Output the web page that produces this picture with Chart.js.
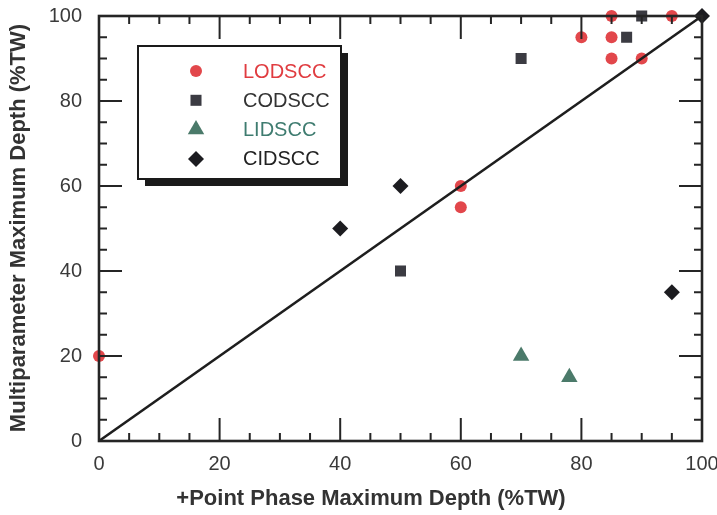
<!DOCTYPE html>
<html lang="en">
<head>
  <meta charset="UTF-8" />
  <title>Multiparameter vs +Point depth</title>
  <script src="https://cdn.jsdelivr.net/npm/chart.js@4.4.0/dist/chart.umd.min.js"></script>
  <style>
    *{margin:0;padding:0;box-sizing:border-box}
    body{background:#fff;width:717px;height:515px;overflow:hidden}
    #wrap{position:relative;width:717px;height:515px}
  </style>
</head>
<body>
<div id="wrap"><canvas id="depthChart" width="717" height="515"></canvas></div>
<script>
/* data (%TW) */
const lodX=[0,60,60,80,85,85,85,90,95];
const lodY=[20,60,55,95,100,95,90,90,100];
const codX=[50,70,87.5,90];
const codY=[40,90,95,100];
const lidX=[70,78];
const lidY=[20,15];
const cidX=[40,50,95,100];
const cidY=[50,60,35,100];
const lineX=[0,100];
const lineY=[0,100];
const tickVals=[0,20,40,60,80,100];
const seriesNames=['LODSCC','CODSCC','LIDSCC','CIDSCC'];
const nameColors=['#e03c40','#333333','#3f7c70','#222222'];

const pts=(xs,ys)=>xs.map((x,i)=>({x,y:ys[i]}));
const FONT="'Liberation Sans', Arial, sans-serif";
const INK='#252525';

/* frame + inward ticks + titles + legend box */
const decor={
  id:'decor',
  afterDatasetsDraw(chart){
    const {ctx,chartArea:a,scales:{x,y}}=chart;
    ctx.save();
    ctx.strokeStyle=INK;ctx.lineWidth=2;
    ctx.beginPath();
    for(let v=0;v<=100;v+=5){
      const len=v%20===0?23:8;
      const px=x.getPixelForValue(v),py=y.getPixelForValue(v);
      ctx.moveTo(px,a.bottom);ctx.lineTo(px,a.bottom-len);
      ctx.moveTo(px,a.top);ctx.lineTo(px,a.top+len);
      ctx.moveTo(a.left,py);ctx.lineTo(a.left+len,py);
      ctx.moveTo(a.right,py);ctx.lineTo(a.right-len,py);
    }
    ctx.stroke();
    ctx.lineWidth=2.6;
    ctx.strokeRect(a.left,a.top,a.right-a.left,a.bottom-a.top);

    // axis titles
    ctx.fillStyle='#333';
    ctx.font='bold 22px '+FONT;
    ctx.textAlign='center';ctx.textBaseline='middle';
    ctx.fillText('+Point Phase Maximum Depth (%TW)',371,499);
    ctx.translate(19,228);ctx.rotate(-Math.PI/2);
    ctx.fillText('Multiparameter Maximum Depth (%TW)',0,0);
    ctx.setTransform(1,0,0,1,0,0);

    // legend box with drop shadow
    const bx=a.left+39,by=a.top+30,bw=203,bh=133;
    ctx.fillStyle='#1a1a1a';
    ctx.fillRect(bx+7,by+7,bw,bh);
    ctx.fillStyle='#fff';
    ctx.fillRect(bx,by,bw,bh);
    ctx.lineWidth=2;ctx.strokeStyle='#1a1a1a';
    ctx.strokeRect(bx,by,bw,bh);
    const sets=chart.data.datasets.slice(1);
    ctx.font='20px '+FONT;ctx.textAlign='left';ctx.textBaseline='middle';
    sets.forEach((ds,i)=>{
      const ry=by+25+i*29.3;
      ctx.fillStyle=ds.backgroundColor;ctx.strokeStyle=ds.backgroundColor;
      Chart.helpers.drawPoint(ctx,{pointStyle:ds.pointStyle,radius:ds.pointRadius,borderWidth:0,rotation:0},bx+58,ry);
      ctx.fillStyle=nameColors[i];
      ctx.fillText(seriesNames[i],bx+105,ry+1);
    });
    ctx.restore();
  }
};

const sc=(name,style,r,color)=>({type:'scatter',label:name,data:null,pointStyle:style,pointRadius:r,pointHoverRadius:r,
  backgroundColor:color,borderColor:color,borderWidth:0,clip:false,order:1});

const dsLod=sc(seriesNames[0],'circle',6,'#e2474b');dsLod.data=pts(lodX,lodY);
const dsCod=sc(seriesNames[1],'rect',7.8,'#3b3b42');dsCod.data=pts(codX,codY);
const dsLid=sc(seriesNames[2],'triangle',9.5,'#4b7a6a');dsLid.data=pts(lidX,lidY);
const dsCid=sc(seriesNames[3],'rectRot',8,'#1c1c20');dsCid.data=pts(cidX,cidY);

new Chart('depthChart',{
  data:{datasets:[
    {type:'line',label:'1:1',data:pts(lineX,lineY),borderColor:'#1e1e1e',borderWidth:2.6,pointRadius:0,fill:false,order:0,clip:false},
    dsLod,dsCod,dsLid,dsCid
  ]},
  options:{
    responsive:false,animation:false,
    layout:{padding:{top:16,right:15,left:0,bottom:0}},
    plugins:{legend:{display:false},tooltip:{enabled:false}},
    scales:{
      x:{type:'linear',min:0,max:100,
        afterBuildTicks:s=>{s.ticks=tickVals.map(v=>({value:v}))},
        afterFit:s=>{s.height=74;s.paddingLeft=0;s.paddingRight=0},
        grid:{display:false,drawTicks:false},border:{display:false},
        ticks:{padding:11,color:'#3a3a3a',font:{family:FONT,size:20}}},
      y:{type:'linear',min:0,max:100,
        afterBuildTicks:s=>{s.ticks=tickVals.map(v=>({value:v}))},
        afterFit:s=>{s.width=99;s.paddingTop=0;s.paddingBottom=0},
        grid:{display:false,drawTicks:false},border:{display:false},
        ticks:{padding:17,color:'#3a3a3a',font:{family:FONT,size:20}}}
    }
  },
  plugins:[decor]
});
</script>
</body>
</html>
